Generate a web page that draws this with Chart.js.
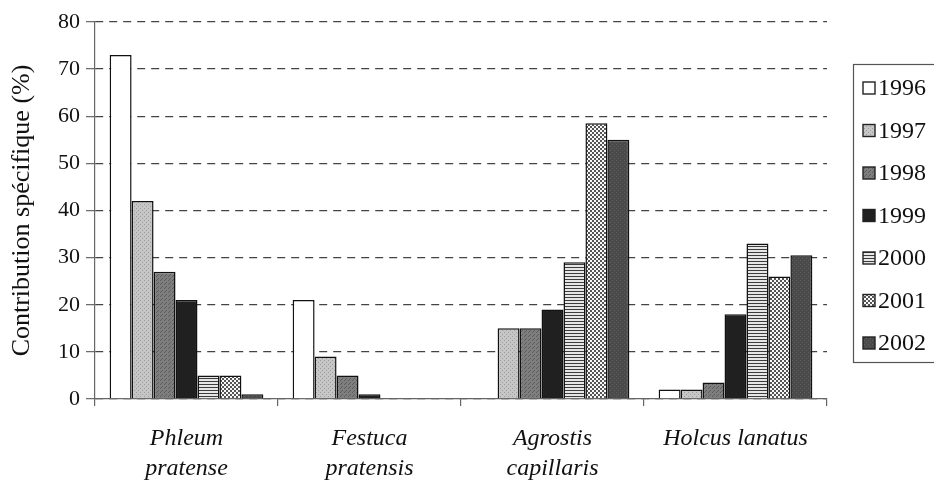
<!DOCTYPE html>
<html>
<head>
<meta charset="utf-8">
<script src="https://cdn.jsdelivr.net/npm/chart.js@4.4.1/dist/chart.umd.min.js"></script>
<style>
html, body { margin: 0; padding: 0; background: #fff; }
</style>
</head>
<body>
<canvas id="chart" width="934" height="485"></canvas>
<script>
const categories = [["Phleum", "pratense"], ["Festuca", "pratensis"], ["Agrostis", "capillaris"], "Holcus lanatus"];
const years = ["1996", "1997", "1998", "1999", "2000", "2001", "2002"];
const v1996 = [73, 21, 0, 2];
const v1997 = [42, 9, 15, 2];
const v1998 = [27, 5, 15, 3.5];
const v1999 = [21, 1, 19, 18];
const v2000 = [5, 0, 29, 33];
const v2001 = [5, 0, 58.5, 26];
const v2002 = [1, 0, 55, 30.5];
const yTicks = [0, 10, 20, 30, 40, 50, 60, 70, 80];

const canvas = document.getElementById('chart');
const mainCtx = canvas.getContext('2d');

// small tiles to mimic the printed hatches
function tile(size, bg, fg, pixels) {
    const c = document.createElement('canvas');
    c.width = c.height = size;
    const g = c.getContext('2d');
    g.fillStyle = bg;
    g.fillRect(0, 0, size, size);
    g.fillStyle = fg;
    pixels.forEach(p => g.fillRect(p[0], p[1], p[2] || 1, p[3] || 1));
    return mainCtx.createPattern(c, 'repeat');
}

const fills = [
    '#ffffff',
    tile(4, '#c6c6c6', '#9c9c9c', [[0, 0], [2, 2]]),
    tile(4, '#7e7e7e', '#5c5c5c', [[0, 0], [2, 2], [1, 3]]),
    '#202020',
    tile(3, '#e6e6e6', '#3c3c3c', [[0, 0, 3, 1]]),
    tile(4, '#f8f8f8', '#555555', [[0, 0, 2, 2], [2, 2, 2, 2]]),
    tile(4, '#4a4a4a', '#5e5e5e', [[0, 0], [2, 2]])
];
const series = [v1996, v1997, v1998, v1999, v2000, v2001, v2002];

const legendBox = {
    id: 'legendBox',
    afterDraw(chart) {
        const ctx = chart.ctx;
        ctx.save();
        ctx.strokeStyle = '#555';
        ctx.lineWidth = 1.2;
        ctx.strokeRect(853.5, 64.5, 120, 298);
        ctx.font = '24px "Liberation Serif", serif';
        ctx.textBaseline = 'middle';
        chart.data.datasets.forEach((ds, i) => {
            const y = 88 + i * 42.5;
            ctx.fillStyle = ds.backgroundColor;
            ctx.fillRect(863, y - 6, 12, 12);
            ctx.strokeStyle = '#222';
            ctx.lineWidth = 1.4;
            ctx.strokeRect(863, y - 6, 12, 12);
            ctx.fillStyle = '#111';
            ctx.fillText(ds.label, 878, y + 1);
        });
        ctx.restore();
    }
};

new Chart(mainCtx, {
    type: 'bar',
    data: {
        labels: categories,
        datasets: years.map((y, i) => ({
            label: y,
            data: series[i],
            backgroundColor: fills[i],
            borderColor: '#111',
            borderWidth: 1.5,
            categoryPercentage: 0.84,
            barPercentage: 1
        }))
    },
    options: {
        responsive: false,
        animation: false,
        layout: { padding: { top: 22, right: 107, bottom: 0, left: 0 } },
        plugins: { legend: { display: false }, tooltip: { enabled: false } },
        scales: {
            x: {
                grid: { drawOnChartArea: false, offset: true, tickLength: 7, color: '#666', lineWidth: 1.2 },
                border: { color: '#666', width: 1.2 },
                ticks: {
                    font: { family: 'Liberation Serif', size: 24, style: 'italic', lineHeight: 1.25 },
                    color: '#111', padding: 18, maxRotation: 0, autoSkip: false
                },
                afterFit: s => { s.height = 86; }
            },
            y: {
                min: 0, max: 80,
                afterBuildTicks: s => { s.ticks = yTicks.map(v => ({ value: v })); },
                ticks: { font: { family: 'Liberation Serif', size: 22 }, color: '#111', padding: 6 },
                grid: { color: '#444', lineWidth: 1.3, tickLength: 9, tickColor: '#666', tickWidth: 1.2, tickBorderDash: [] },
                border: { dash: [8, 6], color: '#666', width: 1.2 },
                title: {
                    display: true, text: 'Contribution spécifique (%)',
                    font: { family: 'Liberation Serif', size: 26 }, color: '#111',
                    padding: { top: 7, bottom: 0 }
                },
                afterFit: s => { s.width = 95; }
            }
        }
    },
    plugins: [legendBox]
});
</script>
</body>
</html>
